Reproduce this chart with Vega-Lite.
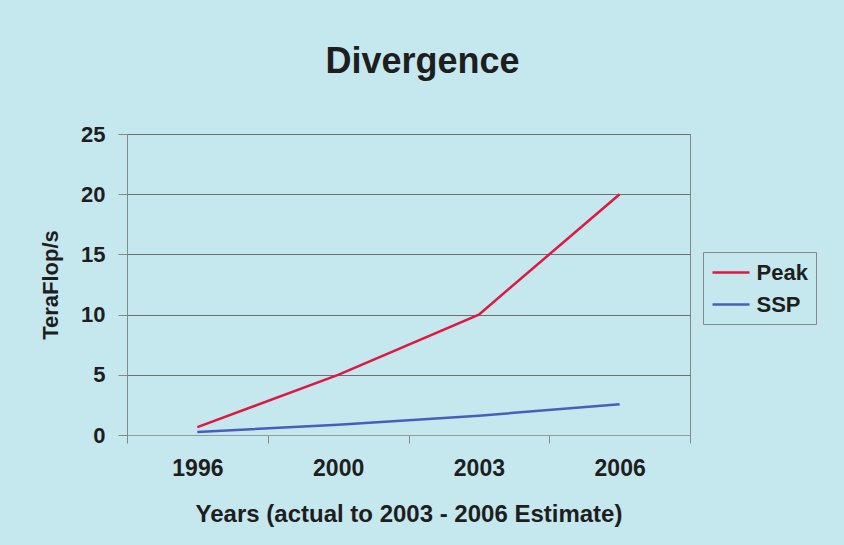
{
  "$schema": "https://vega.github.io/schema/vega-lite/v6.json",
  "width": 563,
  "height": 301,
  "autosize": {"type": "none"},
  "padding": {"left": 127, "top": 134, "right": 154, "bottom": 110},
  "background": "#c5e8ee",
  "title": {
    "text": "Divergence",
    "fontSize": 36,
    "font": "Liberation Sans",
    "fontWeight": "bold",
    "color": "#1e1e1e",
    "anchor": "middle",
    "dx": 14,
    "offset": 42
  },
  "data": {
    "values": [
      {"year": "1996", "series": "Peak", "value": 0.65},
      {"year": "2000", "series": "Peak", "value": 5},
      {"year": "2003", "series": "Peak", "value": 10},
      {"year": "2006", "series": "Peak", "value": 20},
      {"year": "1996", "series": "SSP", "value": 0.25},
      {"year": "2000", "series": "SSP", "value": 0.85},
      {"year": "2003", "series": "SSP", "value": 1.6},
      {"year": "2006", "series": "SSP", "value": 2.55}
    ]
  },
  "mark": {"type": "line", "strokeWidth": 2.5},
  "encoding": {
    "x": {
      "field": "year",
      "type": "ordinal",
      "bandPosition": 0.5,
      "scale": {"type": "band", "paddingInner": 0, "paddingOuter": 0},
      "axis": {
        "title": "Years (actual to 2003 - 2006 Estimate)",
        "labelAngle": 0,
        "tickBand": "extent",
        "tickSize": 8,
        "tickColor": "#888888",
        "domainColor": "#999999",
        "labelPadding": 14,
        "labelFontSize": 23,
        "labelFont": "Liberation Sans",
        "labelFontWeight": "bold",
        "labelColor": "#1e1e1e",
        "titleFontSize": 24,
        "titleFont": "Liberation Sans",
        "titleFontWeight": "bold",
        "titleColor": "#1e1e1e",
        "titlePadding": 22,
        "grid": false
      }
    },
    "y": {
      "field": "value",
      "type": "quantitative",
      "scale": {"domain": [0, 25], "nice": false},
      "axis": {
        "title": "TeraFlop/s",
        "values": [0, 5, 10, 15, 20, 25],
        "grid": true,
        "gridColor": "#6e6e6e",
        "gridWidth": 1,
        "domainColor": "#888888",
        "tickColor": "#888888",
        "tickSize": 9,
        "labelPadding": 13,
        "labelFontSize": 22,
        "labelFont": "Liberation Sans",
        "labelFontWeight": "bold",
        "labelColor": "#1e1e1e",
        "titleFontSize": 22,
        "titleFont": "Liberation Sans",
        "titleFontWeight": "bold",
        "titleColor": "#1e1e1e",
        "titlePadding": 18
      }
    },
    "color": {
      "field": "series",
      "type": "nominal",
      "scale": {"domain": ["Peak", "SSP"], "range": ["#e0173f", "#4a5cbc"]},
      "legend": {
        "title": null,
        "orient": "none",
        "legendX": 576,
        "legendY": 118,
        "symbolType": "M-1.68,0H1.68",
        "symbolSize": 484,
        "symbolStrokeWidth": 2.5,
        "symbolOffset": 7.5,
        "labelOffset": 13,
        "labelFontSize": 22,
        "labelFont": "Liberation Sans",
        "labelFontWeight": "bold",
        "labelColor": "#1e1e1e",
        "strokeColor": "#888888",
        "padding": 8,
        "rowPadding": 8
      }
    }
  },
  "config": {
    "view": {"stroke": "#888888", "strokeWidth": 1}
  }
}
